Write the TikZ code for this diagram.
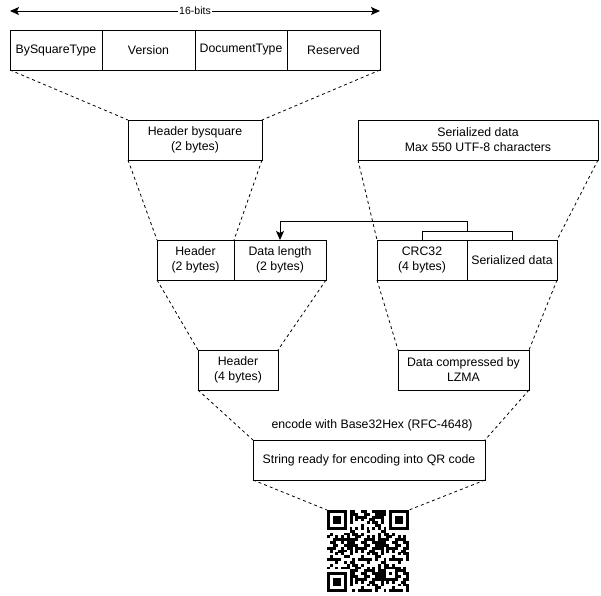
\documentclass[tikz,border=0pt]{standalone}
\usepackage{fontspec}
\setmainfont{Liberation Sans}
\usetikzlibrary{positioning,arrows.meta}

\tikzset{
  cell/.style={draw, line width=1pt, minimum height=40pt, inner sep=0pt, outer sep=0pt,
    align=center, font=\fontsize{12.3}{15}\selectfont},
  zoomline/.style={line width=0.8pt, dash pattern=on 3pt off 3pt},
  link/.style={line width=1pt},
}

\begin{document}
\begin{tikzpicture}[x=1pt, y=-1pt]
  \useasboundingbox (0,0) rectangle (601,595);

  % field layout of the header
  \coordinate (bitsL) at (10,11);
  \coordinate (bitsR) at (380,11);
  \draw[link, {Stealth[length=9pt,width=8pt,inset=2pt]}-{Stealth[length=9pt,width=8pt,inset=2pt]}]
    (bitsL) -- node[fill=white, inner sep=1pt, font=\fontsize{10.5}{12}\selectfont] {16-bits} (bitsR);

  \node[cell, minimum width=92pt] (bst) at (56,50) {BySquareType};
  \node[cell, minimum width=93pt, right=0pt of bst] (ver) {Version};
  \node[cell, minimum width=92pt, right=0pt of ver] (doct) {DocumentType};
  \node[cell, minimum width=93pt, right=0pt of doct] (res) {Reserved};

  \node[cell, minimum width=134pt] (hbs) at (195,140) {Header bysquare\\(2 bytes)};
  \node[cell, minimum width=240pt] (sdata) at (478,140) {Serialized data\\Max 550 UTF-8 characters};

  \node[cell, minimum width=77pt] (hdr2) at (195.5,260) {Header\\(2 bytes)};
  \node[cell, minimum width=92pt, right=0pt of hdr2] (dlen) {Data length\\(2 bytes)};
  \node[cell, minimum width=90pt] (crc) at (422,260) {CRC32\\(4 bytes)};
  \node[cell, minimum width=90pt, right=0pt of crc] (ser) {Serialized data};

  \node[cell, minimum width=80pt] (hdr4) at (238,370) {Header\\(4 bytes)};
  \node[cell, minimum width=131pt] (lzma) at (463.5,370) {Data compressed by\\LZMA};

  \node[font=\fontsize{12.3}{15}\selectfont] (enc) at (372,425) {encode with Base32Hex (RFC-4648)};
  \node[cell, minimum width=232pt] (qrstr) at (369,460) {String ready for encoding into QR code};

  \node[minimum size=82pt, inner sep=0pt, outer sep=0pt] (qr) at (368,551) {};

  % zoom lines
  \draw[zoomline] (bst.south west) -- (hbs.north west);
  \draw[zoomline] (res.south east) -- (hbs.north east);
  \draw[zoomline] (hbs.south west) -- (hdr2.north west);
  \draw[zoomline] (hbs.south east) -- (dlen.north west);
  \draw[zoomline] (sdata.south west) -- (crc.north west);
  \draw[zoomline] (sdata.south east) -- (ser.north east);
  \draw[zoomline] (hdr2.south west) -- (hdr4.north west);
  \draw[zoomline] (dlen.south east) -- (hdr4.north east);
  \draw[zoomline] (crc.south west) -- (lzma.north west);
  \draw[zoomline] (ser.south east) -- (lzma.north east);
  \draw[zoomline] (hdr4.south west) -- (qrstr.north west);
  \draw[zoomline] (lzma.south east) -- (qrstr.north east);
  \draw[zoomline] (qrstr.south west) -- (qr.north west);
  \draw[zoomline] (qrstr.south east) -- (qr.north east);

  % length of the data
  \draw[link] (crc.north) -- ++(0,-9) -| (ser.north);
  \draw[link, -{Stealth[length=9pt,width=8pt,inset=2pt]}]
    (crc.north east) ++(0,-9) -- ++(0,-10) -| (dlen.north);

  % QR code, 29 x 29 modules
  \begin{scope}[shift={(qr.north west)}, x=2.8276pt, y=-2.8276pt]
    \foreach \r in {0,...,28} {
      \foreach \c in {0,...,28} {
        \pgfmathtruncatemacro\keep{!(((\r<8)&&(\c<8))||((\r<8)&&(\c>20))||((\r>20)&&(\c<8))
          ||((\r>19)&&(\r<25)&&(\c>19)&&(\c<25))||(\r==6)||(\c==6))
          && (mod(mod(\r*\r,11)*7+mod(\c*\c,11)*3+mod(\r*\c,11)*5+\r*5+\c*13+17,11)<6)}
        \ifnum\keep=1
          \fill (\c,\r) rectangle ++(1.03,1.03);
        \fi
      }
    }
    \foreach \i in {8,10,...,20} {
      \fill (\i,6) rectangle ++(1,1);
      \fill (6,\i) rectangle ++(1,1);
    }
    \foreach \a/\b in {0/0, 22/0, 0/22} {
      \fill (\a,\b) rectangle ++(7,7);
      \fill[white] (\a+1,\b+1) rectangle ++(5,5);
      \fill (\a+2,\b+2) rectangle ++(3,3);
    }
    \fill (20,20) rectangle ++(5,5);
    \fill[white] (21,21) rectangle ++(3,3);
    \fill (22,22) rectangle ++(1,1);
  \end{scope}
\end{tikzpicture}
\end{document}
